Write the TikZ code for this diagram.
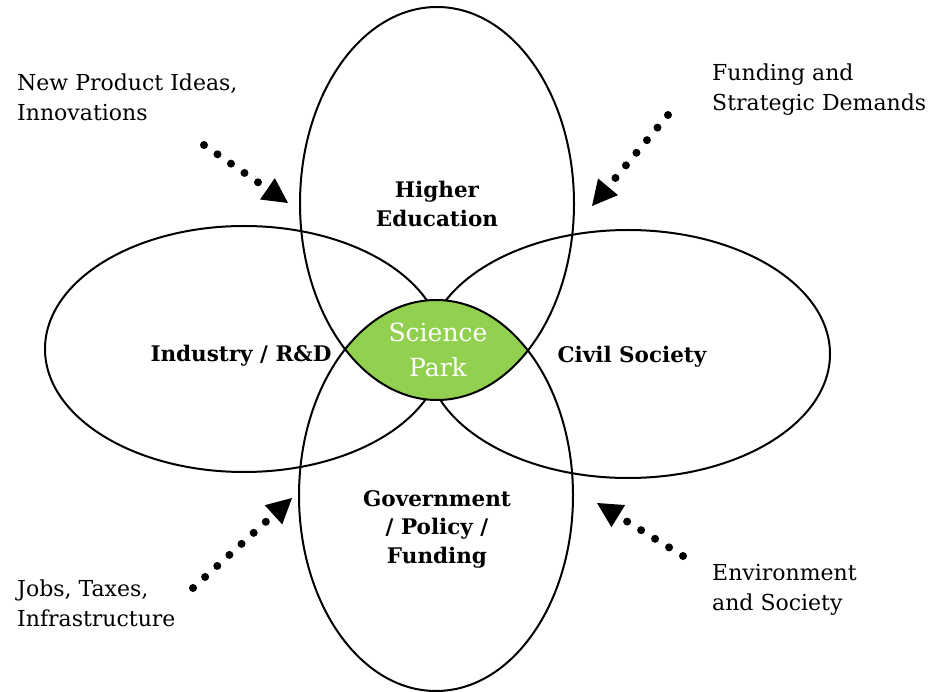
\documentclass[tikz,border=0pt]{standalone}
\usepackage{fontspec}
\setmainfont{DejaVu Serif}
\usetikzlibrary{arrows.meta}
\definecolor{parkgreen}{RGB}{146,208,80}

\begin{document}
\begin{tikzpicture}[x=1pt,y=-1pt,
		sector/.style={font=\bfseries\fontsize{21.5}{28.5}\selectfont,align=center,inner sep=0pt},
		note/.style={font=\fontsize{22}{30}\selectfont,align=left,anchor=west,inner sep=0pt},
		flow/.style={line width=8pt,line cap=round,dash pattern=on 0pt off 16.4pt,
			-{Triangle[length=25pt,width=26pt,line width=0pt]}}]
		\useasboundingbox (0,0) rectangle (945,692);

		\draw[line width=2pt] (244,349) ellipse [x radius=199,y radius=123];
		\draw[line width=2pt] (628,354) ellipse [x radius=202,y radius=124];

		% overlap of the two tall ellipses
		\begin{scope}
			\clip (437,203.5) ellipse [x radius=137,y radius=196.5];
			\fill[parkgreen] (436,495.5) ellipse [x radius=137,y radius=195.5];
		\end{scope}

		\draw[line width=2pt] (437,203.5) ellipse [x radius=137,y radius=196.5];
		\draw[line width=2pt] (436,495.5) ellipse [x radius=137,y radius=195.5];

		\node[sector] (edu)  at (437,204) {Higher\\Education};
		\node[sector] (ind)  at (241,356) {Industry / R\&D};
		\node[sector] (civ)  at (632,357) {Civil Society};
		\node[sector] (gov)  at (437,529) {Government\\/ Policy /\\Funding};
		\node[inner sep=0pt,align=center,text=white,font=\fontsize{25}{35}\selectfont]
			(park) at (438,350) {Science\\Park};

		\node[note] (ideas) at (17,97)  {New Product Ideas,\\Innovations};
		\node[note] (fund)  at (712,90) {Funding and\\Strategic Demands};
		\node[note] (jobs)  at (17,603) {Jobs, Taxes,\\Infrastructure};
		\node[note] (env)   at (712,590) {Environment\\and Society};

		\coordinate (s1) at (204,145);
		\coordinate (t1) at (288,203);
		\coordinate (s2) at (668,115);
		\coordinate (t2) at (592,206);
		\coordinate (s3) at (193,588);
		\coordinate (t3) at (292,498);
		\coordinate (s4) at (683,556);
		\coordinate (t4) at (597,503);

		\draw[flow] (s1) to (t1);
		\draw[flow] (s2) to (t2);
		\draw[flow] (s3) to (t3);
		\draw[flow] (s4) to (t4);
	\end{tikzpicture}
\end{document}
